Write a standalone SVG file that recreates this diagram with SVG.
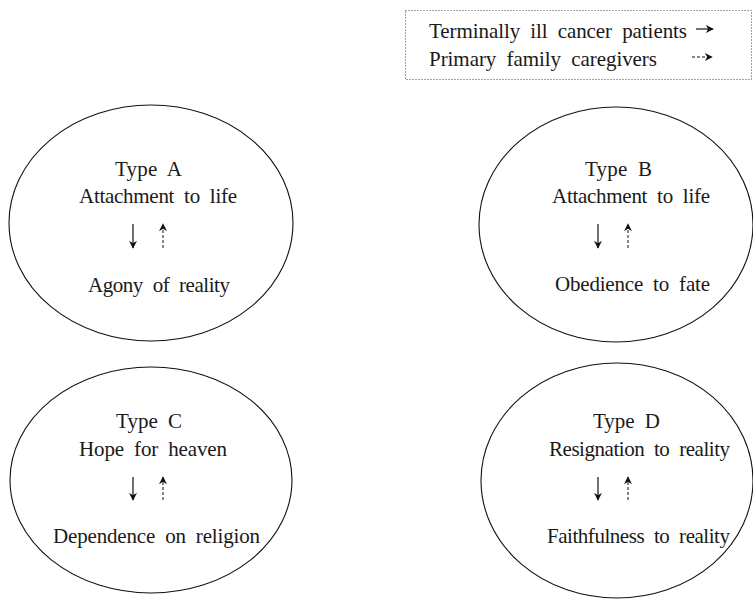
<svg xmlns="http://www.w3.org/2000/svg" width="753" height="601" viewBox="0 0 753 601">
<defs>
<style>
.ell{fill:none;stroke:#111;stroke-width:1.1}
.t{font-family:"Liberation Serif","Times New Roman",serif;font-size:21px;fill:#1a1a1a;word-spacing:5px}
.solid{stroke:#111;stroke-width:1.2;fill:none}
.dash{stroke:#111;stroke-width:1;stroke-dasharray:3,2;fill:none}
.box{fill:#fff;stroke:#444;stroke-width:1;stroke-dasharray:1,2}
</style>
<marker id="hs" viewBox="0 0 10 10" refX="9" refY="5" markerWidth="8" markerHeight="8" markerUnits="userSpaceOnUse" orient="auto">
<path d="M0,0 L10,5 L0,10 L3,5 Z" fill="#111"/>
</marker>
<marker id="hd" viewBox="0 0 10 10" refX="9" refY="5" markerWidth="8" markerHeight="8" markerUnits="userSpaceOnUse" orient="auto">
<path d="M0,0 L10,5 L0,10 L3,5 Z" fill="#111"/>
</marker>
</defs>
<rect width="753" height="601" fill="#fff"/>
<g id="legend">
<rect class="box" x="405.5" y="10.5" width="346" height="69"/>
<text class="t" x="429" y="38" textLength="258" lengthAdjust="spacing">Terminally ill cancer patients</text>
<text class="t" x="429" y="66" textLength="228" lengthAdjust="spacing">Primary family caregivers</text>
</g>
<g id="typeA">
<ellipse class="ell" cx="151" cy="223" rx="142" ry="118"/>
<text class="t" x="115" y="176" textLength="67" lengthAdjust="spacing">Type A</text>
<text class="t" x="79" y="203" textLength="158" lengthAdjust="spacing">Attachment to life</text>
<text class="t" x="88" y="292" textLength="142" lengthAdjust="spacing">Agony of reality</text>
</g>
<g id="typeB">
<ellipse class="ell" cx="616" cy="224.5" rx="137" ry="117.5"/>
<text class="t" x="585" y="176" textLength="67" lengthAdjust="spacing">Type B</text>
<text class="t" x="552" y="203" textLength="158" lengthAdjust="spacing">Attachment to life</text>
<text class="t" x="555" y="291" textLength="155" lengthAdjust="spacing">Obedience to fate</text>
</g>
<g id="typeC">
<ellipse class="ell" cx="151" cy="480" rx="141" ry="113"/>
<text class="t" x="116" y="428" textLength="66" lengthAdjust="spacing">Type C</text>
<text class="t" x="79" y="456" textLength="148" lengthAdjust="spacing">Hope for heaven</text>
<text class="t" x="53" y="543" textLength="207" lengthAdjust="spacing">Dependence on religion</text>
</g>
<g id="typeD">
<ellipse class="ell" cx="617" cy="480.5" rx="136" ry="117.5"/>
<text class="t" x="593" y="428" textLength="67" lengthAdjust="spacing">Type D</text>
<text class="t" x="549" y="456" textLength="181" lengthAdjust="spacing">Resignation to reality</text>
<text class="t" x="547" y="543" textLength="183" lengthAdjust="spacing">Faithfulness to reality</text>
</g>
<g id="connectors">
<line class="solid" x1="696" y1="29" x2="713" y2="29" marker-end="url(#hs)"/>
<line class="dash" x1="692" y1="57" x2="712" y2="57" marker-end="url(#hd)"/>
<line class="solid" x1="133" y1="224" x2="133" y2="248" marker-end="url(#hs)"/>
<line class="dash" x1="163" y1="248" x2="163" y2="224" marker-end="url(#hd)"/>
<line class="solid" x1="598" y1="224" x2="598" y2="248" marker-end="url(#hs)"/>
<line class="dash" x1="628" y1="248" x2="628" y2="224" marker-end="url(#hd)"/>
<line class="solid" x1="133" y1="477" x2="133" y2="500" marker-end="url(#hs)"/>
<line class="dash" x1="163" y1="500" x2="163" y2="477" marker-end="url(#hd)"/>
<line class="solid" x1="598" y1="477" x2="598" y2="500" marker-end="url(#hs)"/>
<line class="dash" x1="628" y1="500" x2="628" y2="477" marker-end="url(#hd)"/>
</g>
</svg>
